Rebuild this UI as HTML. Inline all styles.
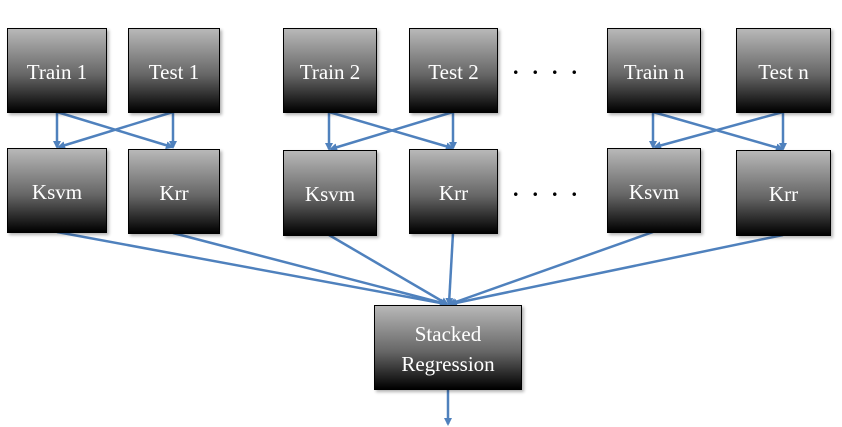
<!DOCTYPE html>
<html><head><style>
body{margin:0;width:842px;height:427px;background:#fff;position:relative;overflow:hidden;font-family:"Liberation Serif",serif}
.b{position:absolute;box-sizing:border-box;border:1px solid #000;background:linear-gradient(#b8b8b8,#666 55%,#000);color:#fff;font-size:21px;display:flex;align-items:center;justify-content:center;text-align:center;line-height:30px;box-shadow:2px 2px 3px rgba(0,0,0,.3);padding-top:2px}
svg{position:absolute;left:0;top:0}
.d{position:absolute;font-size:22px;letter-spacing:14px;color:#000;font-weight:bold}
</style></head><body>
<svg width="842" height="427"><defs><marker id="a" markerWidth="8" markerHeight="8" refX="6" refY="4" orient="auto" markerUnits="userSpaceOnUse"><path d="M0,0L8,4L0,8z" fill="#4f81bd"/></marker></defs>
<g stroke="#4f81bd" stroke-width="2.5" fill="none" marker-end="url(#a)">
<line x1="57" y1="112" x2="57" y2="147"/><line x1="57" y1="112" x2="172" y2="147"/><line x1="173" y1="112" x2="173" y2="147"/><line x1="173" y1="112" x2="59" y2="147"/>
<line x1="329" y1="112" x2="329" y2="149"/><line x1="329" y1="112" x2="452" y2="148"/><line x1="453" y1="112" x2="453" y2="148"/><line x1="453" y1="112" x2="331" y2="149"/>
<line x1="653" y1="112" x2="653" y2="147"/><line x1="653" y1="112" x2="782" y2="149"/><line x1="783" y1="112" x2="783" y2="149"/><line x1="783" y1="112" x2="655" y2="147"/>
<line x1="57" y1="232" x2="446" y2="304"/><line x1="173" y1="233" x2="446" y2="304"/><line x1="329" y1="235" x2="447" y2="304"/><line x1="453" y1="233" x2="449" y2="304"/><line x1="653" y1="232" x2="450" y2="304"/><line x1="783" y1="235" x2="451" y2="304"/>
<line x1="448" y1="389" x2="448" y2="424"/>
</g></svg>
<div class="b" style="left:7px;top:28px;width:100px;height:85px">Train 1</div>
<div class="b" style="left:128px;top:28px;width:92px;height:85px">Test 1</div>
<div class="b" style="left:283px;top:28px;width:94px;height:85px">Train 2</div>
<div class="b" style="left:409px;top:28px;width:89px;height:85px">Test 2</div>
<div class="b" style="left:607px;top:28px;width:94px;height:85px">Train n</div>
<div class="b" style="left:736px;top:28px;width:95px;height:85px">Test n</div>
<div class="b" style="left:7px;top:148px;width:100px;height:85px">Ksvm</div>
<div class="b" style="left:128px;top:149px;width:92px;height:85px">Krr</div>
<div class="b" style="left:283px;top:150px;width:94px;height:86px">Ksvm</div>
<div class="b" style="left:409px;top:149px;width:89px;height:85px">Krr</div>
<div class="b" style="left:607px;top:148px;width:94px;height:85px">Ksvm</div>
<div class="b" style="left:736px;top:150px;width:95px;height:86px">Krr</div>
<div class="b" style="left:374px;top:305px;width:148px;height:85px">Stacked<br>Regression</div>
<div class="d" style="left:513px;top:54px">....</div>
<div class="d" style="left:513px;top:176px">....</div>
</body></html>
